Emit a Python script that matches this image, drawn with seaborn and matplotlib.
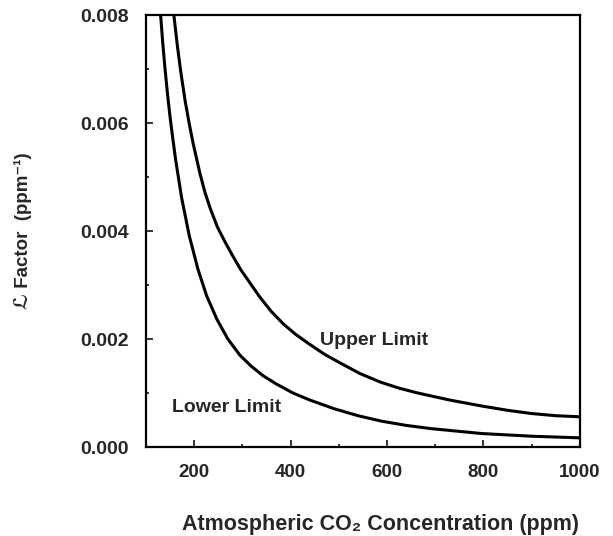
import numpy as np
import pandas as pd
import matplotlib
matplotlib.use("Agg")
import matplotlib.pyplot as plt
from matplotlib.ticker import MultipleLocator
import seaborn as sns

# values
lower_ppm = [130.5, 135, 139.5, 145, 150, 155.5, 162, 174, 190, 208, 226,
             247, 270, 295, 318, 343, 370, 405, 440, 490, 540, 588, 640,
             692, 796, 900, 1000]
lower_L = [0.0080, 0.00748, 0.00702, 0.00652, 0.00612, 0.00573, 0.00530,
           0.00462, 0.00391, 0.00329, 0.00280, 0.00237, 0.00200, 0.00170,
           0.00150, 0.00132, 0.00117, 0.00100, 0.00087, 0.00071, 0.00058,
           0.00048, 0.00040, 0.00034, 0.00025, 0.00020, 0.00017]

upper_ppm = [158, 165, 172, 181, 190, 198, 212, 222, 233, 248, 264, 280,
             297, 336, 360, 385, 410, 440, 470, 500, 544, 587, 625, 664,
             730, 796, 850, 900, 950, 1000]
upper_L = [0.0080, 0.00745, 0.00697, 0.00643, 0.00598, 0.00562, 0.00507,
           0.00473, 0.00443, 0.00408, 0.00380, 0.00354, 0.00328, 0.00278,
           0.00251, 0.00228, 0.00209, 0.00190, 0.00172, 0.00157, 0.00136,
           0.00120, 0.00109, 0.00100, 0.00087, 0.00076, 0.00068, 0.00062,
           0.00058, 0.00056]

df = pd.concat([
    pd.DataFrame({"ppm": lower_ppm, "L": lower_L, "limit": "Lower Limit"}),
    pd.DataFrame({"ppm": upper_ppm, "L": upper_L, "limit": "Upper Limit"}),
])

sns.set_style("ticks")
plt.rcParams["font.family"] = ["Liberation Sans", "DejaVu Sans"]
plt.rcParams["font.weight"] = "bold"
plt.rcParams["lines.solid_joinstyle"] = "round"

fig = plt.figure(figsize=(6.13, 5.36), dpi=100)
ax = fig.add_axes([0.238, 0.166, 0.708, 0.806])

sns.lineplot(data=df, x="ppm", y="L", hue="limit",
             palette={"Lower Limit": "black", "Upper Limit": "black"},
             linewidth=2.2, legend=False, sort=False, ax=ax)

ax.set_xlim(100, 1000)
ax.set_ylim(0, 0.008)
ax.set_xticks([200, 400, 600, 800, 1000])
ax.set_yticks([0.000, 0.002, 0.004, 0.006, 0.008])
ax.set_yticklabels(["0.000", "0.002", "0.004", "0.006", "0.008"])
ax.xaxis.set_minor_locator(MultipleLocator(100))
ax.yaxis.set_minor_locator(MultipleLocator(0.001))
ax.tick_params(which="both", direction="in", width=1.3)
ax.tick_params(axis="x", labelsize=13.5, pad=12)
ax.tick_params(axis="y", labelsize=14, pad=12)
ax.tick_params(which="major", length=5)
ax.tick_params(which="minor", length=2.5)
for lab in ax.get_xticklabels() + ax.get_yticklabels():
    lab.set_fontweight("bold")

for s in ax.spines.values():
    s.set_visible(True)
    s.set_linewidth(1.6)
    s.set_color("black")

ax.text(462, 0.00198, "Upper Limit", fontsize=14, fontweight="bold", va="center")
ax.text(154, 0.00074, "Lower Limit", fontsize=14, fontweight="bold", va="center")

ax.set_xlabel("Atmospheric CO\u2082 Concentration (ppm)", fontsize=15.5,
              fontweight="bold")
ax.xaxis.set_label_coords(0.541, -0.155)
ax.set_ylabel("\u2112 Factor  (ppm\u207b\u00b9)", fontsize=13.5, fontweight="bold")
ax.yaxis.set_label_coords(-0.262, 0.5)

fig.savefig("out.png", dpi=100, facecolor="white")
